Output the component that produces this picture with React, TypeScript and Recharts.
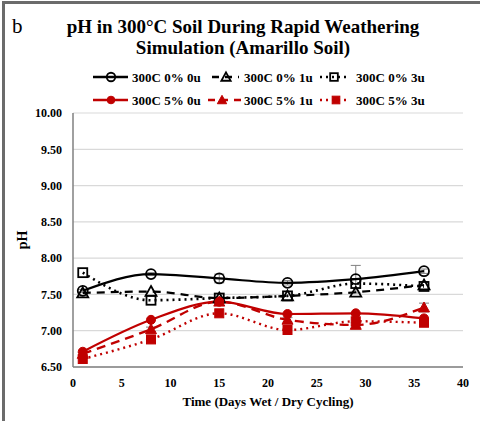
import React from 'react';
import {
  LineChart,
  Line,
  XAxis,
  YAxis,
  CartesianGrid,
  ErrorBar,
  Label,
} from 'recharts';

const days = [1, 8, 15, 22, 29, 36];

const ph0u0 = [7.55, 7.78, 7.72, 7.66, 7.71, 7.82];
const ph0u1 = [7.52, 7.54, 7.45, 7.48, 7.53, 7.63];
const ph0u3 = [7.8, 7.42, 7.45, 7.48, 7.65, 7.61];
const ph5u0 = [6.71, 7.15, 7.4, 7.23, 7.24, 7.17];
const ph5u1 = [6.68, 7.02, 7.4, 7.15, 7.08, 7.32];
const ph5u3 = [6.61, 6.88, 7.24, 7.01, 7.13, 7.11];

const err0u0 = [0.02, 0.02, 0.06, 0.03, 0.19, 0.03];
const err5u1 = [0.02, 0.03, 0.03, 0.03, 0.03, 0.06];

const yTicks = [6.5, 7, 7.5, 8, 8.5, 9, 9.5, 10];
const xTicks = [0, 5, 10, 15, 20, 25, 30, 35, 40];

const BLACK = '#000000';
const RED = '#c00000';
const FONT = '"Liberation Serif", "Times New Roman", serif';

const rows = days.map((d, i) => ({
  day: d,
  a: ph0u0[i],
  b: ph0u1[i],
  c: ph0u3[i],
  d5: ph5u0[i],
  e: ph5u1[i],
  f: ph5u3[i],
  ea: err0u0[i],
  ee: err5u1[i],
}));

type Shape = 'circle' | 'triangle' | 'square';

const Marker = ({ cx, cy, shape, color, filled, small }: { cx: number; cy: number; shape: Shape; color: string; filled: boolean; small?: boolean }) => {
  const fill = filled ? color : 'none';
  const sw = filled ? 1 : 1.8;
  const k = small ? 0.85 : 1;
  if (shape === 'circle') {
    return <circle cx={cx} cy={cy} r={(filled ? 4.5 : 5) * k} fill={fill} stroke={color} strokeWidth={sw} />;
  }
  if (shape === 'triangle') {
    const s = 5.5 * k;
    return (
      <polygon
        points={`${cx},${cy - s} ${cx + s},${cy + s * 0.8} ${cx - s},${cy + s * 0.8}`}
        fill={fill}
        stroke={color}
        strokeWidth={sw}
      />
    );
  }
  const h = 4.5 * k;
  return <rect x={cx - h} y={cy - h} width={h * 2} height={h * 2} fill={fill} stroke={color} strokeWidth={sw} />;
};

const makeDot = (shape: Shape, color: string, filled: boolean) => (props: any) => (
  <Marker key={`${shape}-${color}-${props.index}`} cx={props.cx} cy={props.cy} shape={shape} color={color} filled={filled} />
);

const legendRows = [
  [
    { name: '300C 0% 0u', shape: 'circle' as Shape, color: BLACK, filled: false, dash: undefined, x1: 93, x2: 128, mx: 111, tx: 132 },
    { name: '300C 0% 1u', shape: 'triangle' as Shape, color: BLACK, filled: false, dash: '7 6', x1: 212, x2: 239, mx: 226, tx: 244 },
    { name: '300C 0% 3u', shape: 'square' as Shape, color: BLACK, filled: false, dash: '2 4', x1: 320, x2: 350, mx: 334, tx: 356 },
  ],
  [
    { name: '300C 5% 0u', shape: 'circle' as Shape, color: RED, filled: true, dash: undefined, x1: 93, x2: 128, mx: 111, tx: 132 },
    { name: '300C 5% 1u', shape: 'triangle' as Shape, color: RED, filled: true, dash: '7 6', x1: 208, x2: 241, mx: 222, tx: 244 },
    { name: '300C 5% 3u', shape: 'square' as Shape, color: RED, filled: true, dash: '2 4', x1: 320, x2: 350, mx: 336, tx: 356 },
  ],
];

const ChartLegend = () => (
  <svg width={480} height={40} style={{ position: 'absolute', left: 0, top: 66 }}>
    {legendRows.map((row, r) =>
      row.map((it) => {
        const y = 11 + r * 23;
        return (
          <g key={it.name}>
            <line x1={it.x1} x2={it.x2} y1={y} y2={y} stroke={it.color} strokeWidth={2.4} strokeDasharray={it.dash} />
            <Marker cx={it.mx} cy={y} shape={it.shape} color={it.color} filled={it.filled} small />
            <text x={it.tx} y={y + 4.5} fontFamily={FONT} fontWeight="bold" fontSize={13} fill="#000">
              {it.name}
            </text>
          </g>
        );
      })
    )}
  </svg>
);

const tickStyle = { fontFamily: FONT, fontWeight: 'bold' as const, fontSize: 12, fill: '#000' };

export default function App() {
  return (
    <div style={{ position: 'absolute', left: 0, top: 0, width: 480, height: 421, background: '#fff', overflow: 'hidden' }}>
      <div
        style={{
          position: 'absolute',
          left: 2,
          top: 1,
          width: 490,
          height: 430,
          borderTop: '3px solid #6b6b6b',
          borderLeft: '3px solid #6b6b6b',
        }}
      />
      <div style={{ position: 'absolute', left: 12, top: 14, fontFamily: FONT, fontSize: 21 }}>b</div>
      <div
        style={{
          position: 'absolute',
          left: 6,
          top: 16,
          width: 474,
          textAlign: 'center',
          fontFamily: FONT,
          fontWeight: 'bold',
          fontSize: 19,
          lineHeight: '21px',
        }}
      >
        pH in 300°C Soil During Rapid Weathering
        <br />
        Simulation (Amarillo Soil)
      </div>
      <ChartLegend />
      <div style={{ position: 'absolute', left: 0, top: 0 }}>
        <LineChart width={480} height={421} data={rows} margin={{ top: 113, right: 17, left: 0, bottom: 0 }}>
          <CartesianGrid vertical={false} stroke="#d9d9d9" strokeWidth={1.2} />
          <XAxis
            dataKey="day"
            type="number"
            domain={[0, 40]}
            ticks={xTicks}
            height={54}
            tickLine={false}
            axisLine={{ stroke: '#808080', strokeWidth: 1.5 }}
            tick={tickStyle}
            tickMargin={5}
            interval={0}
          >
            <Label
              value="Time (Days Wet / Dry Cycling)"
              position="insideBottom"
              offset={15}
              style={{ fontFamily: FONT, fontWeight: 'bold', fontSize: 13, fill: '#000' }}
            />
          </XAxis>
          <YAxis
            type="number"
            domain={[6.5, 10]}
            ticks={yTicks}
            width={73}
            tickLine={false}
            axisLine={{ stroke: '#808080', strokeWidth: 1.5 }}
            tick={tickStyle}
            tickMargin={5}
            tickFormatter={(v: number) => v.toFixed(2)}
            interval={0}
          >
            <Label
              value="pH"
              angle={-90}
              position="insideLeft"
              offset={22}
              style={{ fontFamily: FONT, fontWeight: 'bold', fontSize: 14, fill: '#000', textAnchor: 'middle' }}
            />
          </YAxis>
          <Line dataKey="a" type="monotone" stroke={BLACK} strokeWidth={2.2} dot={makeDot('circle', BLACK, false)} isAnimationActive={false}>
            <ErrorBar dataKey="ea" direction="y" width={5} stroke="#808080" strokeWidth={1} />
          </Line>
          <Line dataKey="b" type="monotone" stroke={BLACK} strokeWidth={2.2} strokeDasharray="8 6" dot={makeDot('triangle', BLACK, false)} isAnimationActive={false} />
          <Line dataKey="c" type="monotone" stroke={BLACK} strokeWidth={2.6} strokeDasharray="2 4" dot={makeDot('square', BLACK, false)} isAnimationActive={false} />
          <Line dataKey="d5" type="monotone" stroke={RED} strokeWidth={2.2} dot={makeDot('circle', RED, true)} isAnimationActive={false} />
          <Line dataKey="e" type="monotone" stroke={RED} strokeWidth={2.4} strokeDasharray="9 6" dot={makeDot('triangle', RED, true)} isAnimationActive={false}>
            <ErrorBar dataKey="ee" direction="y" width={5} stroke="#808080" strokeWidth={1} />
          </Line>
          <Line dataKey="f" type="monotone" stroke={RED} strokeWidth={2.4} strokeDasharray="2 4" dot={makeDot('square', RED, true)} isAnimationActive={false} />
        </LineChart>
      </div>
    </div>
  );
}
